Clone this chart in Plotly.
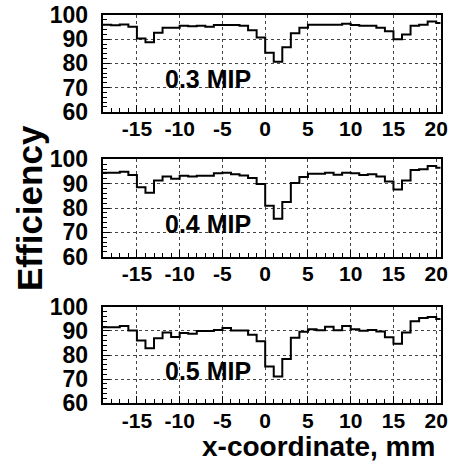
import plotly.graph_objects as go

# bin lower edges (1 mm bins)
bin_edges = list(range(-19, 22))  # -19 ... 21
labels = ["0.3 MIP", "0.4 MIP", "0.5 MIP"]

eff_03 = [96.0, 95.8, 96.1, 95.1, 90.3, 88.7, 92.7, 94.7, 94.7, 95.6,
          95.3, 95.6, 95.1, 95.9, 95.9, 95.9, 95.6, 93.7, 90.7, 84.4,
          80.7, 86.7, 92.4, 94.7, 96.0, 96.0, 96.0, 96.0, 96.4, 95.9,
          95.6, 95.6, 94.7, 93.3, 90.0, 91.9, 95.6, 96.0, 97.3, 96.7]
eff_04 = [94.5, 94.5, 94.9, 93.6, 88.5, 86.3, 91.3, 92.9, 92.0, 93.2,
          92.9, 93.2, 93.2, 94.3, 94.5, 93.9, 93.3, 92.3, 89.9, 80.9,
          75.6, 82.5, 90.3, 92.7, 94.1, 94.1, 94.5, 93.7, 94.5, 94.3,
          93.6, 93.9, 92.9, 90.9, 87.6, 91.3, 95.6, 95.9, 97.2, 96.5]
eff_05 = [91.5, 91.5, 92.0, 90.1, 86.0, 82.8, 86.9, 89.3, 87.5, 89.1,
          88.8, 89.9, 89.9, 90.4, 91.2, 90.1, 90.1, 88.4, 85.7, 75.2,
          71.1, 78.3, 87.1, 89.6, 90.7, 90.3, 91.7, 90.3, 92.0, 90.7,
          90.0, 90.4, 89.7, 87.3, 84.7, 89.3, 94.0, 95.3, 95.7, 94.9]
series = [eff_03, eff_04, eff_05]

x_ticks = [-15, -10, -5, 0, 5, 10, 15, 20]
x_ticktext = ["-15", "-10", "-5", "0", "5", "10", "15", "20"]
y_ticks = [60, 70, 80, 90, 100]
y_ticktext = ["60", "70", "80", "90", "100"]

W, H = 452, 462
x_dom = [102.7 / W, 440.5 / W]
panels_px = [(15.0, 111.7), (159.3, 256.7), (306.7, 403.3)]

FONT = "Liberation Sans, Arial, Helvetica, sans-serif"

fig = go.Figure()
for i, vals in enumerate(series):
    xs = bin_edges
    ys = vals + [vals[-1]]
    n = "" if i == 0 else str(i + 1)
    fig.add_trace(go.Scatter(
        x=xs, y=ys, mode="lines", line=dict(shape="hv", color="black", width=2),
        xaxis="x" + n, yaxis="y" + n, showlegend=False, hoverinfo="skip"))
    top, bot = panels_px[i]
    common = dict(showline=True, linecolor="black", linewidth=2, mirror=True,
                  ticks="inside", tickcolor="black", showgrid=True,
                  gridcolor="#444444", griddash="dot", gridwidth=1,
                  zeroline=False, automargin=False)
    fig.update_layout(**{
        "xaxis" + n: dict(domain=x_dom, range=[-19, 20.5], tickvals=x_ticks,
                          ticktext=x_ticktext, ticklen=7, anchor="y" + n,
                          minor=dict(dtick=1, tick0=0, ticklen=4, ticks="inside",
                                     tickcolor="black", showgrid=False),
                          ticklabelstandoff=-3,
                          tickfont=dict(family=FONT, size=21, color="black", weight="bold"),
                          **common),
        "yaxis" + n: dict(domain=[1 - bot / H, 1 - top / H], range=[60, 100],
                          tickvals=y_ticks, ticktext=y_ticktext, ticklen=7,
                          anchor="x" + n,
                          minor=dict(dtick=2, tick0=60, ticklen=4, ticks="inside",
                                     tickcolor="black", showgrid=False),
                          ticklabelstandoff=8,
                          tickfont=dict(family=FONT, size=23, color="black", weight="bold"),
                          **common),
    })
    fig.add_annotation(x=-6.7, y=73.5, xref="x" + n, yref="y" + n,
                       text=labels[i], showarrow=False,
                       font=dict(family=FONT, size=25, color="black", weight="bold"))

fig.add_annotation(x=437 / W, y=1 - 446.5 / H, xref="paper", yref="paper",
                   xanchor="right", yanchor="middle", text="x-coordinate, mm",
                   showarrow=False,
                   font=dict(family=FONT, size=28, color="black", weight="bold"))
fig.add_annotation(x=29 / W, y=1 - 208 / H, xref="paper", yref="paper",
                   xanchor="center", yanchor="middle", text="Efficiency",
                   textangle=-90, showarrow=False,
                   font=dict(family=FONT, size=35, color="black", weight="bold"))

fig.update_layout(template="none", width=W, height=H,
                  margin=dict(l=0, r=0, t=0, b=0, autoexpand=False),
                  paper_bgcolor="white", plot_bgcolor="white", showlegend=False)
fig.write_html("out.html")
